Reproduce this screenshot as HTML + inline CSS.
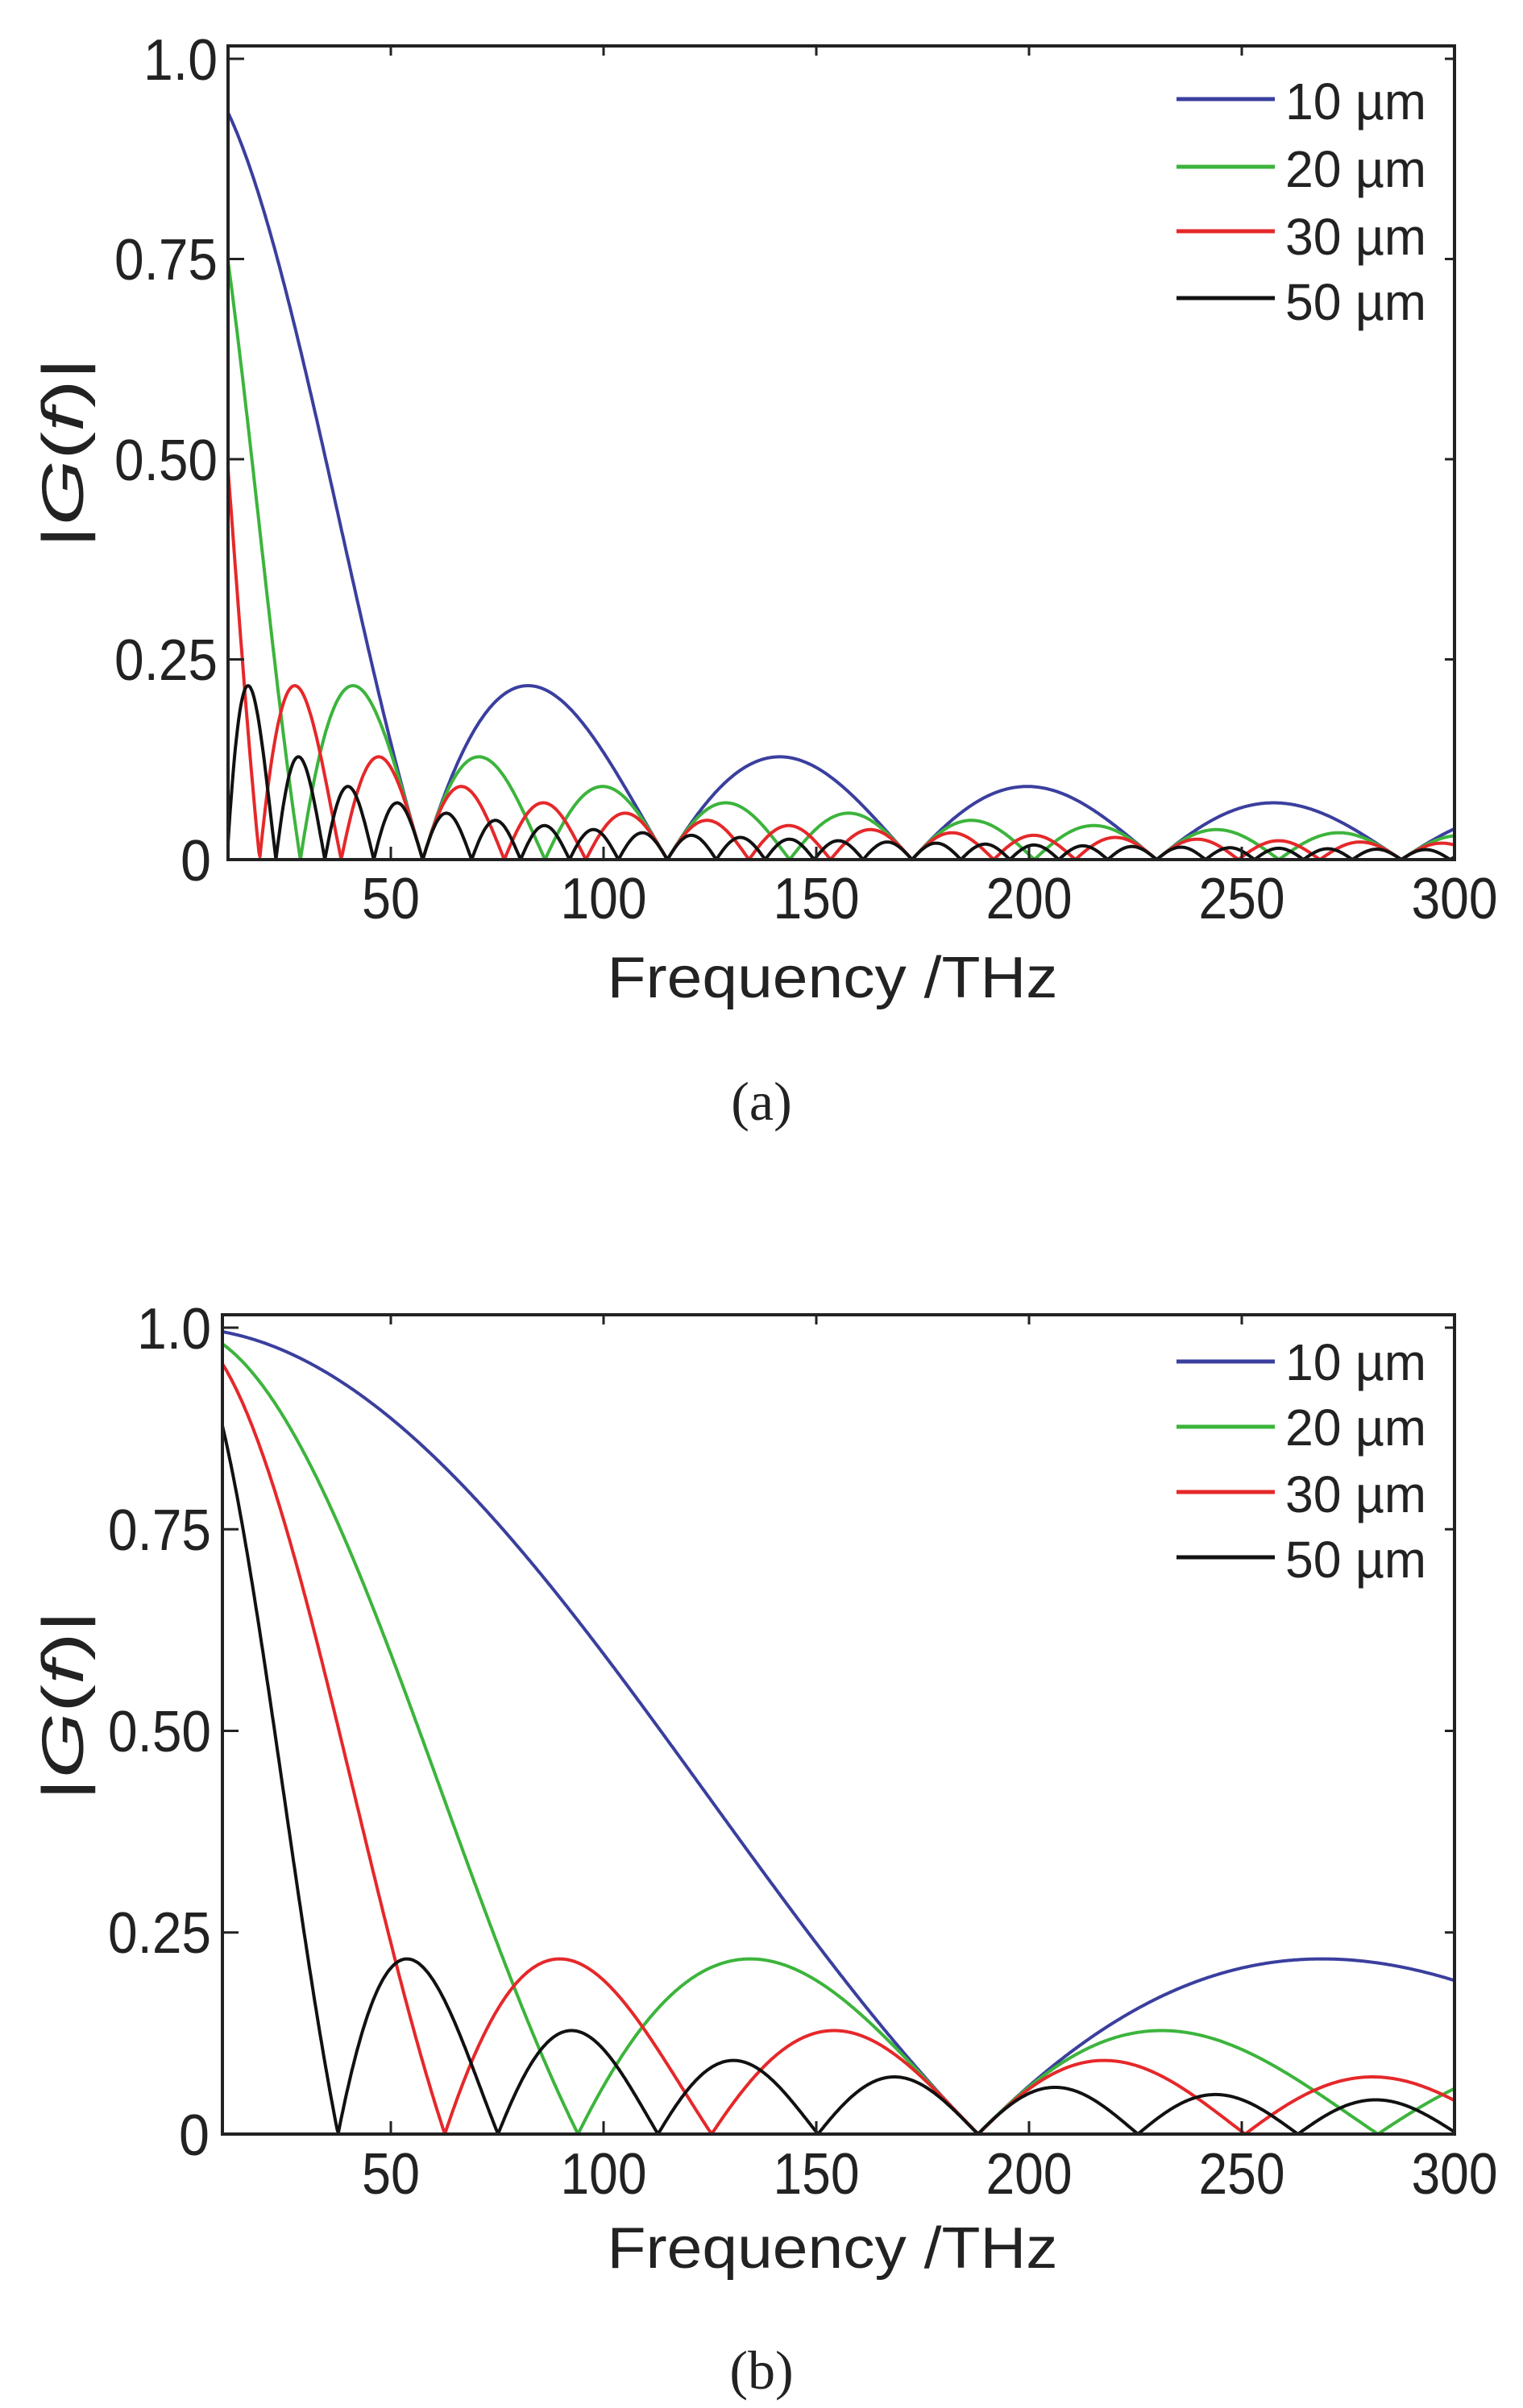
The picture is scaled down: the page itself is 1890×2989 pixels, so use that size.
<!DOCTYPE html>
<html><head><meta charset="utf-8"><style>
html,body{margin:0;padding:0;background:#fff;}
svg{display:block;}
text{font-family:"Liberation Sans",sans-serif;fill:#222;}
</style></head><body>
<svg id="s" width="1890" height="2989" xmlns="http://www.w3.org/2000/svg">
<g id="ga"></g><g id="gb"></g>
<!-- Panel a labels -->
<g font-size="72">
<text x="270" y="99" text-anchor="end" textLength="92" lengthAdjust="spacingAndGlyphs">1.0</text>
<text x="270" y="347" text-anchor="end" textLength="128" lengthAdjust="spacingAndGlyphs">0.75</text>
<text x="270" y="596" text-anchor="end" textLength="128" lengthAdjust="spacingAndGlyphs">0.50</text>
<text x="270" y="844" text-anchor="end" textLength="128" lengthAdjust="spacingAndGlyphs">0.25</text>
<text x="262" y="1093" text-anchor="end" textLength="38" lengthAdjust="spacingAndGlyphs">0</text>
<text x="485" y="1140" text-anchor="middle" textLength="72" lengthAdjust="spacingAndGlyphs">50</text>
<text x="749" y="1140" text-anchor="middle" textLength="107" lengthAdjust="spacingAndGlyphs">100</text>
<text x="1013" y="1140" text-anchor="middle" textLength="107" lengthAdjust="spacingAndGlyphs">150</text>
<text x="1277" y="1140" text-anchor="middle" textLength="107" lengthAdjust="spacingAndGlyphs">200</text>
<text x="1541" y="1140" text-anchor="middle" textLength="107" lengthAdjust="spacingAndGlyphs">250</text>
<text x="1805" y="1140" text-anchor="middle" textLength="107" lengthAdjust="spacingAndGlyphs">300</text>
<text x="1033" y="1238" text-anchor="middle" textLength="559" lengthAdjust="spacingAndGlyphs">Frequency /THz</text>
<text transform="translate(103,562) rotate(-90)" text-anchor="middle" textLength="236" lengthAdjust="spacingAndGlyphs">|<tspan font-style="italic">G</tspan>(<tspan font-style="italic">f</tspan>)|</text>
</g>
<g font-size="64">
<text x="1595" y="148" textLength="175" lengthAdjust="spacingAndGlyphs">10 µm</text>
<text x="1595" y="232" textLength="175" lengthAdjust="spacingAndGlyphs">20 µm</text>
<text x="1595" y="316" textLength="175" lengthAdjust="spacingAndGlyphs">30 µm</text>
<text x="1595" y="397" textLength="175" lengthAdjust="spacingAndGlyphs">50 µm</text>
</g>
<text x="945" y="1390" text-anchor="middle" font-size="68" style="font-family:'Liberation Serif',serif">(a)</text>
<!-- Panel b labels -->
<g font-size="72">
<text x="262" y="1674" text-anchor="end" textLength="92" lengthAdjust="spacingAndGlyphs">1.0</text>
<text x="262" y="1924" text-anchor="end" textLength="128" lengthAdjust="spacingAndGlyphs">0.75</text>
<text x="262" y="2174" text-anchor="end" textLength="128" lengthAdjust="spacingAndGlyphs">0.50</text>
<text x="262" y="2424" text-anchor="end" textLength="128" lengthAdjust="spacingAndGlyphs">0.25</text>
<text x="260" y="2675" text-anchor="end" textLength="38" lengthAdjust="spacingAndGlyphs">0</text>
<text x="485" y="2723" text-anchor="middle" textLength="72" lengthAdjust="spacingAndGlyphs">50</text>
<text x="749" y="2723" text-anchor="middle" textLength="107" lengthAdjust="spacingAndGlyphs">100</text>
<text x="1013" y="2723" text-anchor="middle" textLength="107" lengthAdjust="spacingAndGlyphs">150</text>
<text x="1277" y="2723" text-anchor="middle" textLength="107" lengthAdjust="spacingAndGlyphs">200</text>
<text x="1541" y="2723" text-anchor="middle" textLength="107" lengthAdjust="spacingAndGlyphs">250</text>
<text x="1805" y="2723" text-anchor="middle" textLength="107" lengthAdjust="spacingAndGlyphs">300</text>
<text x="1033" y="2815" text-anchor="middle" textLength="559" lengthAdjust="spacingAndGlyphs">Frequency /THz</text>
<text transform="translate(103,2117) rotate(-90)" text-anchor="middle" textLength="236" lengthAdjust="spacingAndGlyphs">|<tspan font-style="italic">G</tspan>(<tspan font-style="italic">f</tspan>)|</text>
</g>
<g font-size="64">
<text x="1595" y="1713" textLength="175" lengthAdjust="spacingAndGlyphs">10 µm</text>
<text x="1595" y="1794" textLength="175" lengthAdjust="spacingAndGlyphs">20 µm</text>
<text x="1595" y="1877" textLength="175" lengthAdjust="spacingAndGlyphs">30 µm</text>
<text x="1595" y="1958" textLength="175" lengthAdjust="spacingAndGlyphs">50 µm</text>
</g>
<text x="945" y="2965" text-anchor="middle" font-size="68" style="font-family:'Liberation Serif',serif">(b)</text>
</svg>
<script>
var NS="http://www.w3.org/2000/svg";
var cols=["#3a3f9e","#3cb43c","#e5282a","#111111"];
function sinc(x){if(Math.abs(x)<1e-9)return 1;return Math.abs(Math.sin(Math.PI*x)/(Math.PI*x));}
function el(g,n,a){var e=document.createElementNS(NS,n);for(var k in a)e.setAttribute(k,a[k]);g.appendChild(e);return e;}
function panel(id,L,border,y1,y0,periods,legY){
  var g=document.getElementById(id);
  var R=1805;
  function X(f){return 485+(f-50)*(R-485)/250;}
  function Y(v){return y0-v*(y0-y1);}
  var fstart=50+(L-485)*250/(R-485);
  for(var i=0;i<4;i++){
    var d="";var step=0.25;var first=true;
    for(var f=fstart;f<=300.001;f+=step){
      d+=(first?"M":"L")+X(f).toFixed(1)+","+Y(sinc(f/periods[i])).toFixed(1);first=false;
    }
    el(g,"path",{d:d,fill:"none",stroke:cols[i],"stroke-width":4,"stroke-linejoin":"round"});
    el(g,"line",{x1:1460,x2:1582,y1:legY[i],y2:legY[i],stroke:cols[i],"stroke-width":5});
  }
  el(g,"rect",{x:L,y:border,width:R-L,height:y0-border,fill:"none",stroke:"#222","stroke-width":4});
  for(var f2=50;f2<=250;f2+=50){
    el(g,"line",{x1:X(f2),x2:X(f2),y1:border,y2:border+12,stroke:"#222","stroke-width":3});
    el(g,"line",{x1:X(f2),x2:X(f2),y1:y0,y2:y0-16,stroke:"#222","stroke-width":3});
  }
  for(var v=0.25;v<=1.001;v+=0.25){
    el(g,"line",{x1:L,x2:L+20,y1:Y(v),y2:Y(v),stroke:"#222","stroke-width":3});
    el(g,"line",{x1:R,x2:R-12,y1:Y(v),y2:Y(v),stroke:"#222","stroke-width":3});
  }
}
panel("ga",283,57,73,1067,[57.5,28.75,19.17,11.5],[123,207,287,370]);
panel("gb",276,1632,1648,2649,[188,94,62.7,37.6],[1690,1771,1852,1933]);
</script>
</body></html>
